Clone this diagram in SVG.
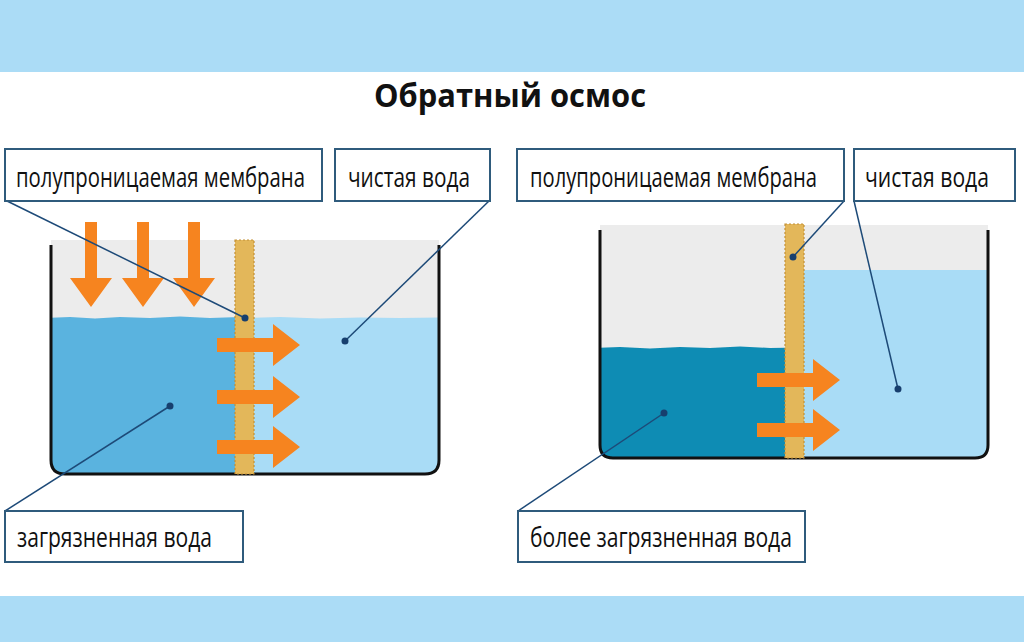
<svg xmlns="http://www.w3.org/2000/svg" width="1024" height="642" viewBox="0 0 1024 642">
<style>
.lbl{fill:#fff;stroke:#2f5b7c;stroke-width:2}
.t{font-family:"Open Sans","Liberation Sans",sans-serif;font-size:27px;fill:#111}
.lead{stroke:#1d4a78;stroke-width:1.5;fill:none}
.dot{fill:#173f6e}
.wall{fill:none;stroke:#111;stroke-width:3;stroke-linejoin:round}
.mem{fill:#e3b75a;stroke:#c28f35;stroke-width:1.2;stroke-dasharray:2 2}
.arr{fill:#f6841f}
</style>
<defs>
<clipPath id="cl"><path d="M51,240 V460 Q51,474 65,474 H425 Q439,474 439,460 V240 Z"/></clipPath>
<clipPath id="cr"><path d="M600,225 V445 Q600,458 613,458 H975 Q988,458 988,445 V225 Z"/></clipPath>
<path id="ad" d="M-6,0 H6 V56 H21 L0,85 L-21,56 H-6 Z"/>
<path id="ar" d="M0,-7 H56 V-21 L83,0 L56,21 V7 H0 Z"/>
</defs>
<rect width="1024" height="642" fill="#fff"/>
<rect x="0" y="0" width="1024" height="72" fill="#abdcf6"/>
<rect x="0" y="596" width="1024" height="46" fill="#abdcf6"/>
<text x="510" y="107" text-anchor="middle" font-family="'Open Sans','Liberation Sans',sans-serif" font-weight="bold" font-size="32" fill="#111" textLength="272" lengthAdjust="spacingAndGlyphs">Обратный осмос</text>

<g id="tank-left">
<g clip-path="url(#cl)">
<rect x="40" y="240" width="410" height="240" fill="#ececec"/>
<path d="M40,318 L70,317 L95,318.5 L120,317 L150,318 L180,316.5 L210,318 L240,317 V480 H40 Z" fill="#5ab3df"/>
<path d="M240,318 L280,317 L320,318.5 L360,317.5 L400,318 L450,317.5 V480 H240 Z" fill="#a9dcf6"/>
</g>
<path class="wall" d="M51,245 V460 Q51,474 65,474 H425 Q439,474 439,460 V245"/>
<rect class="mem" x="235" y="240" width="19" height="234"/>
</g>
<g id="arrows-left">
<use href="#ad" x="91" y="222" class="arr"/>
<use href="#ad" x="143" y="222" class="arr"/>
<use href="#ad" x="194" y="222" class="arr"/>
<use href="#ar" x="217" y="345" class="arr"/>
<use href="#ar" x="217" y="397" class="arr"/>
<use href="#ar" x="217" y="447" class="arr"/>
</g>

<g id="tank-right">
<g clip-path="url(#cr)">
<rect x="590" y="225" width="410" height="240" fill="#ececec"/>
<path d="M590,348 L620,347 L650,348.5 L680,347 L710,348 L740,346.5 L770,348 L800,347.5 V465 H590 Z" fill="#0e8cb4"/>
<rect x="800" y="270" width="200" height="200" fill="#a9dcf6"/>
</g>
<path class="wall" d="M600,230 V445 Q600,458 613,458 H975 Q988,458 988,445 V230"/>
<rect class="mem" x="785" y="224" width="19" height="234"/>
</g>
<g id="arrows-right">
<use href="#ar" x="757" y="380" class="arr"/>
<use href="#ar" x="757" y="430" class="arr"/>
</g>

<g id="connectors">
<line class="lead" x1="5" y1="200" x2="245" y2="318"/>
<circle class="dot" cx="245" cy="318" r="3.5"/>
<line class="lead" x1="490" y1="200" x2="345" y2="341"/>
<circle class="dot" cx="345" cy="341" r="3.5"/>
<line class="lead" x1="5" y1="511" x2="170" y2="406"/>
<circle class="dot" cx="170" cy="406" r="3.5"/>
<line class="lead" x1="844" y1="201" x2="793" y2="257"/>
<circle class="dot" cx="793" cy="257" r="3.5"/>
<line class="lead" x1="854" y1="201" x2="898" y2="389"/>
<circle class="dot" cx="898" cy="389" r="3.5"/>
<line class="lead" x1="518" y1="511" x2="664" y2="413"/>
<circle class="dot" cx="664" cy="413" r="3.5"/>
</g>

<g id="label-membrane-left">
<rect class="lbl" x="5" y="149" width="317" height="52"/>
<text class="t" transform="translate(16,187) scale(0.85,1)" textLength="340" lengthAdjust="spacingAndGlyphs">полупроницаемая мембрана</text>
</g>
<g id="label-clean-left">
<rect class="lbl" x="335" y="149" width="155" height="52"/>
<text class="t" transform="translate(348,187) scale(0.85,1)" textLength="143.5" lengthAdjust="spacingAndGlyphs">чистая вода</text>
</g>
<g id="label-dirty-left">
<rect class="lbl" x="5" y="511" width="238" height="51"/>
<text class="t" transform="translate(17,547) scale(0.85,1)" textLength="229.4" lengthAdjust="spacingAndGlyphs">загрязненная вода</text>
</g>
<g id="label-membrane-right">
<rect class="lbl" x="517" y="149" width="327" height="52"/>
<text class="t" transform="translate(530,187) scale(0.85,1)" textLength="337.6" lengthAdjust="spacingAndGlyphs">полупроницаемая мембрана</text>
</g>
<g id="label-clean-right">
<rect class="lbl" x="854" y="149" width="161" height="52"/>
<text class="t" transform="translate(865,187) scale(0.85,1)" textLength="145.9" lengthAdjust="spacingAndGlyphs">чистая вода</text>
</g>
<g id="label-dirty-right">
<rect class="lbl" x="518" y="511" width="287" height="51"/>
<text class="t" transform="translate(530,547) scale(0.85,1)" textLength="308.2" lengthAdjust="spacingAndGlyphs">более загрязненная вода</text>
</g>
</svg>
